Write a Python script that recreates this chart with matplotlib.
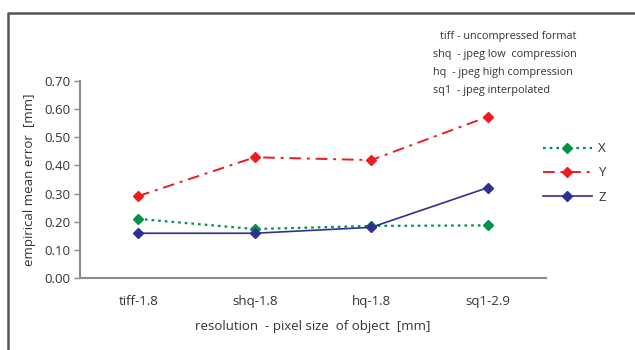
import matplotlib
matplotlib.use('Agg')
import matplotlib.pyplot as plt
from matplotlib.lines import Line2D

# data
categories = ['tiff-1.8', 'shq-1.8', 'hq-1.8', 'sq1-2.9']
x_err = [0.21, 0.174, 0.185, 0.187]
y_err = [0.291, 0.429, 0.419, 0.573]
z_err = [0.159, 0.159, 0.180, 0.321]
notes = ['tiff - uncompressed format',
         'shq  - jpeg low  compression',
         'hq  - jpeg high compression',
         'sq1  - jpeg interpolated']

plt.rcParams['font.family'] = ['Open Sans', 'DejaVu Sans']
txt = '#333333'
axc = '#8c8c8c'

fig = plt.figure(figsize=(6.35, 3.5), dpi=100)
ax = fig.add_axes([80 / 635, 1 - 278 / 350, 466 / 635, 197 / 350])

pos = [0.5, 1.5, 2.5, 3.5]
ax.plot(pos, x_err, color='#009245', ls=(0, (1.2, 1.8)), lw=1.6,
        marker='D', ms=5.5, label='X')
ax.plot(pos, y_err, color='#ed1c24', ls=(0, (6, 3, 1.5, 3)), lw=1.4,
        marker='D', ms=5.5, label='Y')
ax.plot(pos, z_err, color='#2e3192', ls='-', lw=1.2,
        marker='D', ms=5.5, label='Z')

ax.set_xlim(0, 4)
ax.set_ylim(0, 0.7)
ax.set_yticks([i / 10 for i in range(8)])
ax.set_yticklabels(['%.2f' % (i / 10) for i in range(8)], fontsize=9.5, color=txt)
ax.set_xticks(pos)
ax.set_xticklabels(categories, fontsize=9.5, color=txt)
ax.tick_params(axis='x', length=0, pad=12)
ax.tick_params(axis='y', length=4, width=1, color=axc, pad=3)
for s in ['top', 'right']:
    ax.spines[s].set_visible(False)
for s in ['left', 'bottom']:
    ax.spines[s].set_color(axc)
    ax.spines[s].set_linewidth(1.5)

ax.set_ylabel('empirical mean error  [mm]', fontsize=9.5, color=txt, labelpad=6)
ax.set_xlabel('resolution  - pixel size  of object  [mm]', fontsize=9.5,
              color=txt, labelpad=9)

ax.legend(loc='center left', bbox_to_anchor=(543 / 635, 1 - 173 / 350),
          bbox_transform=fig.transFigure, frameon=False, fontsize=9.5,
          handlelength=3.7, handletextpad=0.5, labelspacing=0.85,
          borderaxespad=0, borderpad=0, labelcolor=txt)

ys = [36, 54, 73, 91]
xs = [440, 433, 433, 433]
for n, xx, yy in zip(notes, xs, ys):
    fig.text(xx / 635, 1 - yy / 350, n, fontsize=7.8, color=txt, va='center')

# outer frame (left and top edges only)
fig.add_artist(Line2D([8 / 635, 8 / 635, 1], [0, 1 - 13 / 350, 1 - 13 / 350],
                      transform=fig.transFigure, color='#555555', lw=1.8))

fig.savefig('out.png', dpi=100)
